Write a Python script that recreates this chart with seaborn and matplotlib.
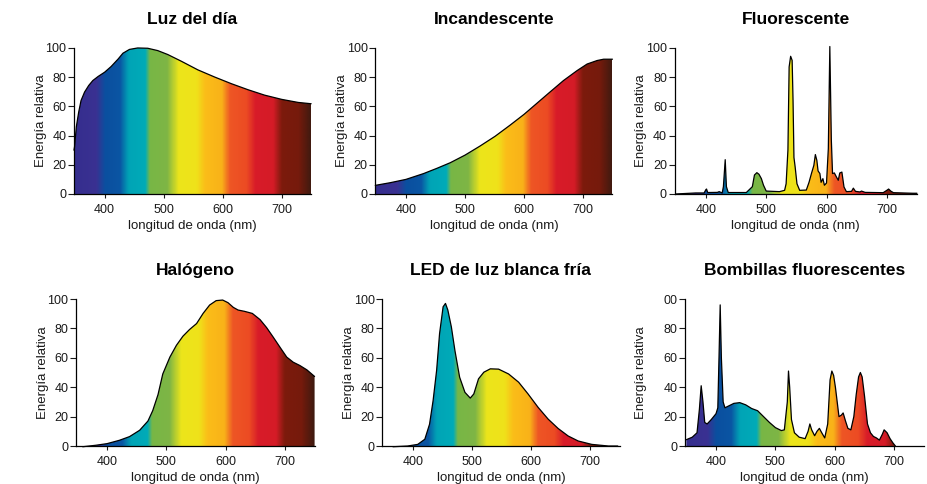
import numpy as np
import matplotlib.pyplot as plt
import seaborn as sns
from matplotlib.colors import LinearSegmentedColormap

sns.set_theme(style='ticks')
plt.rcParams['font.family'] = ['Liberation Sans', 'DejaVu Sans']

# Datos (longitud de onda en nm, energía relativa)
dia_nm = [348, 349, 352, 356, 360, 366, 373, 380, 389, 400, 411, 423, 431, 442, 456,
          473, 490, 507, 530, 558, 587, 615, 643, 671, 700, 728, 750]
dia_val = [30, 32.3, 46, 56, 64, 69.8, 74.3, 77.7, 80.5, 83.4, 87.3, 92.5, 96.4, 99, 100,
           99.8, 98.2, 95.5, 90.9, 85, 80, 75.5, 71.4, 67.7, 64.8, 62.7, 61.8]

inc_nm = [348, 373, 400, 430, 452, 475, 500, 525, 551, 576, 600, 621, 644, 667, 690,
          707, 724, 735, 750]
inc_val = [5.9, 7.7, 10, 14, 17.5, 21.4, 26.6, 32.7, 39.5, 47, 54.5, 61.8, 69.8, 77.7,
           84.5, 89, 91.4, 92.3, 92.3]

flu_nm = [350, 383, 397, 400, 401, 403, 419, 422, 427, 429, 432, 434, 437, 467,
          477, 480.5, 484.5, 488, 492, 495.5, 500, 522, 530.5, 533, 536, 538, 540.5,
          543, 544.5, 546, 548, 551, 555.5, 566.5, 571, 575, 579, 581.5, 584, 586,
          589, 591, 594, 596.5, 600, 603, 605.5, 608, 610, 613, 616.5, 619.5, 622,
          625.5, 629, 633, 641.5, 644.5, 648, 655.5, 658, 664, 694, 700, 703, 706.5,
          711, 743, 750]
flu_val = [0, 0.7, 0.7, 3, 3.4, 1, 1.1, 1.6, 0.7, 5, 23.5, 5, 1, 1,
           5, 13, 14.6, 13.5, 10.5, 6, 2, 1.6, 2.5, 7, 30, 87, 94.3,
           91.5, 64, 25, 18.5, 7, 2.5, 2.7, 8, 14, 19.6, 27, 23, 15.8,
           14, 8, 10.5, 6, 7.5, 31, 101, 37, 14, 14.4, 11.6, 9.4, 14.4,
           15, 4.8, 1.6, 1.8, 4, 1.8, 1.4, 2, 1.1, 0.9, 2.5, 3.4, 2,
           0.9, 0.5, 0.5]

hal_nm = [359, 381, 400, 421, 438, 455, 469, 477, 486, 494, 506, 517, 528, 539, 551,
          562, 573, 584, 595, 604, 613, 621, 632, 645, 658, 669, 680, 692, 703, 714,
          725, 737, 750]
hal_val = [-0.5, 0.5, 1.6, 3.9, 6.4, 10.7, 17, 24, 35, 49, 60.5, 68.5, 74.7, 79.2, 83.3,
           90.2, 95.9, 98.9, 99.3, 97.5, 94.3, 92.5, 91.6, 90.2, 86, 80.6, 74.2, 67, 60.5, 57,
           54.8, 51.8, 47.3]

led_nm = [366, 391, 408, 420, 428, 434, 440, 445, 451, 455, 459, 465, 471, 479, 488,
          497, 503, 511, 520, 531, 545, 562, 579, 595, 612, 629, 646, 663, 680, 703,
          731, 747]
led_val = [-0.5, 0, 1.1, 4.6, 14.8, 30.8, 51.4, 76.5, 94.7, 97, 92.5, 81, 65, 46.8, 36.5,
           32.6, 35.4, 45.7, 50.2, 52.5, 52.3, 49, 43.4, 35.4, 26.3, 18.3, 11.9, 6.8, 3.4, 1.1,
           0, 0]

bom_nm = [350, 360, 368, 372, 375, 378, 381, 385, 392, 400, 403, 405, 407, 409, 412,
          415, 420, 430, 440, 450, 460, 470, 480, 490, 500, 510, 515, 520, 522, 524,
          527, 532, 540, 550, 555, 558, 561, 566, 570, 574, 578, 583, 588, 592, 595,
          598, 601, 604, 607, 611, 614, 618, 622, 627, 632, 636, 640, 643, 646, 650,
          655, 660, 665, 670, 675, 680, 683, 688, 693, 698, 702]
bom_val = [4.3, 6, 9, 25, 41, 30, 16, 15, 18, 22, 26, 60, 96, 60, 30,
           26, 27, 29, 29.5, 28, 25.5, 24, 20, 16, 12.5, 10.5, 11, 30, 51, 40,
           18, 9, 6, 5, 10, 15, 11, 7, 10, 12, 9, 5.5, 15, 45, 51,
           48, 40, 30, 20, 21, 22.5, 17, 12, 11, 20, 35, 47, 50, 47, 34,
           15, 9, 6.5, 5.5, 4, 8, 11, 9, 5, 2, 0]

titles = ['Luz del día', 'Incandescente', 'Fluorescente',
          'Halógeno', 'LED de luz blanca fría', 'Bombillas fluorescentes']
series = [(dia_nm, dia_val), (inc_nm, inc_val), (flu_nm, flu_val),
          (hal_nm, hal_val), (led_nm, led_val), (bom_nm, bom_val)]
y_ticks = [0, 20, 40, 60, 80, 100]
x_ticks = [400, 500, 600, 700]
y_labels_default = ['0', '20', '40', '60', '80', '100']
y_labels_bombillas = ['0', '20', '40', '60', '80', '00']

# colores del espectro
spec_stops = [(348, '#352e8e'), (385, '#3a3192'), (400, '#0b4f9f'), (425, '#0a55a3'),
              (440, '#00a4b6'), (468, '#01abb8'), (476, '#78b746'), (505, '#7eb545'),
              (525, '#ece51b'), (555, '#efe21a'), (570, '#fbbd18'), (598, '#f9b219'),
              (612, '#ee5625'), (640, '#ec4b23'), (655, '#d81c29'), (685, '#d51b27'),
              (700, '#7c1b0c'), (728, '#761a0c'), (750, '#3e1a10')]
x0, x1 = 348, 750
spec_cmap = LinearSegmentedColormap.from_list(
    'espectro', [((w - x0) / (x1 - x0), c) for w, c in spec_stops])

# posiciones de los ejes [izq, abajo, ancho, alto]
positions = [[0.0797, 0.5992, 0.2556, 0.3017],
             [0.4044, 0.5992, 0.2556, 0.3017],
             [0.7269, 0.5992, 0.2612, 0.3017],
             [0.0821, 0.0785, 0.2569, 0.3037],
             [0.4120, 0.0785, 0.2556, 0.3037],
             [0.7383, 0.0785, 0.2573, 0.3037]]

fig = plt.figure(figsize=(9.28, 4.84), dpi=100)
grad = np.linspace(x0, x1, 800)[None, :]

for i, (title, (nm, val)) in enumerate(zip(titles, series)):
    ax = fig.add_axes(positions[i])
    ax.set_xlim(x0, x1)

    poly = ax.fill_between(nm, val, 0, facecolor='none', edgecolor='none')
    im = ax.imshow(grad, extent=[x0, x1, -2, 105], cmap=spec_cmap, aspect='auto',
                   interpolation='bilinear', zorder=1)
    im.set_clip_path(poly.get_paths()[0], ax.transData)
    ax.set_ylim(0, 100)

    sns.lineplot(x=nm, y=val, ax=ax, color='black', linewidth=0.9,
                 estimator=None, sort=False, zorder=3)
    ax.lines[-1].set_clip_on(False)

    sns.despine(ax=ax)
    for s in ['left', 'bottom']:
        ax.spines[s].set_linewidth(0.9)
        ax.spines[s].set_color('black')

    ax.set_yticks(y_ticks)
    ax.set_yticklabels(y_labels_bombillas if i == 5 else y_labels_default)
    ax.set_xticks(x_ticks)
    ax.tick_params(axis='y', length=4, width=0.8, pad=1.5, labelsize=9,
                   colors='#1a1a1a')
    ax.tick_params(axis='x', length=3, width=0.8, pad=4.5, labelsize=9,
                   colors='#1a1a1a')

    ax.set_title(title, fontsize=12.5, fontweight='bold', pad=17, color='black')
    ax.set_xlabel('longitud de onda (nm)', fontsize=9.5, labelpad=2.5, color='#1a1a1a')
    ax.set_ylabel('Energía relativa', fontsize=9.5, labelpad=12 if i == 5 else -1,
                  color='#1a1a1a')

plt.savefig('out.png', dpi=100)
plt.close()
